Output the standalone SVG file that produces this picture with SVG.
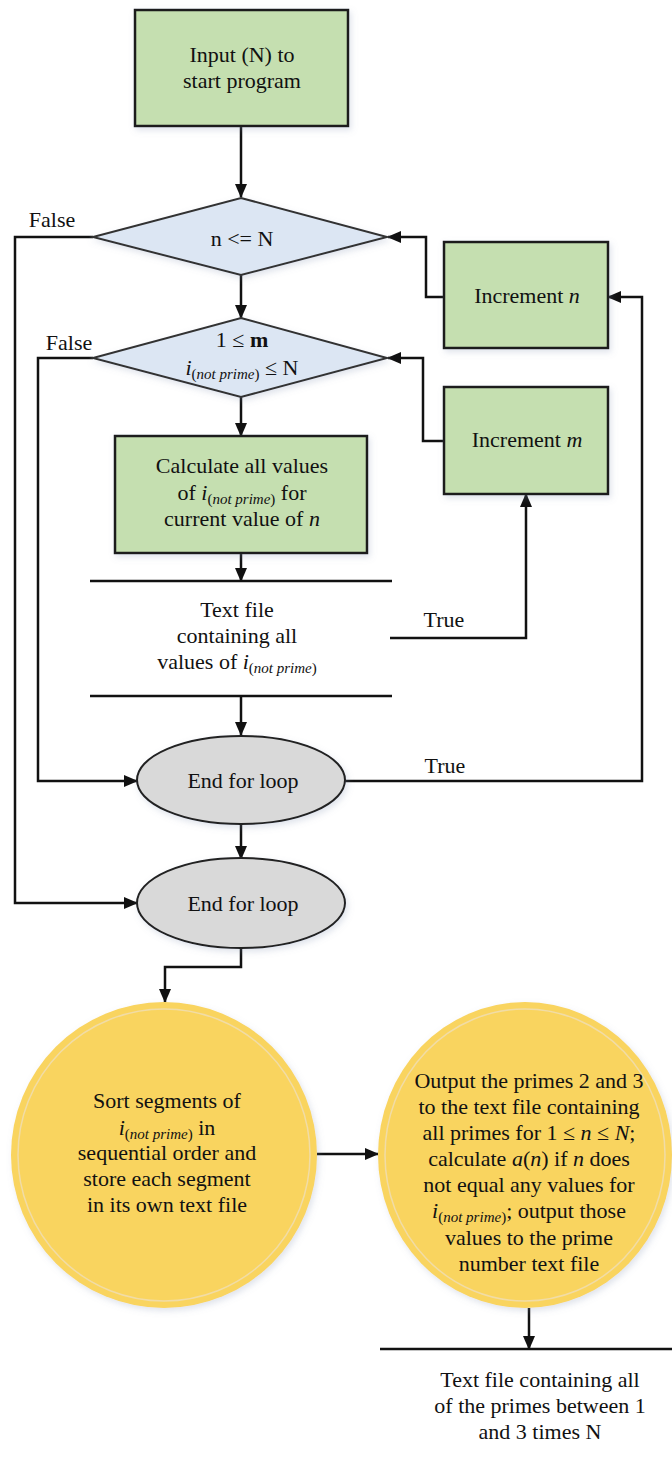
<svg xmlns="http://www.w3.org/2000/svg" width="672" height="1461" viewBox="0 0 672 1461">
<style>
text{font-family:"Liberation Serif","Times New Roman",serif;font-size:22px;fill:#111}
.c{text-anchor:middle}
.it{font-style:italic}
.sub{font-size:15px}
.box{fill:#c5dfb0;stroke:#1a1a1a;stroke-width:2.5}
.dia{fill:#dce6f3;stroke:#333;stroke-width:2}
.ell{fill:#d9d9d9;stroke:#222;stroke-width:2}
.yel{fill:#f9d45f}
.ring{fill:none;stroke:#f1dca6;stroke-width:1.5}
.ln{fill:none;stroke:#111;stroke-width:2.5}
.ca{fill:none;stroke:#111;stroke-width:2.5;marker-end:url(#ah)}
</style>
<defs>
<marker id="ah" markerUnits="userSpaceOnUse" markerWidth="14" markerHeight="14" viewBox="0 0 14 14" refX="13" refY="7" orient="auto">
<path d="M0,1 L14,7 L0,13 Z" fill="#111"/>
</marker>
<filter id="sh" x="-10%" y="-10%" width="125%" height="125%">
<feDropShadow dx="2" dy="3" stdDeviation="3" flood-color="#8090b0" flood-opacity="0.25"/>
</filter>
</defs>

<g id="connectors">
<path class="ca" d="M241,126 V197"/>
<path class="ca" d="M241,275 V318"/>
<path class="ca" d="M241,397 V436"/>
<path class="ca" d="M241,553 V581"/>
<path class="ca" d="M241,696 V735"/>
<path class="ca" d="M241,824 V859"/>
<path class="ca" d="M93,237 H15 V903 H137"/>
<path class="ca" d="M93,358 H38 V781 H137"/>
<path class="ca" d="M444,297 H426 V237 H388"/>
<path class="ca" d="M444,441 H423 V358 H388"/>
<path class="ca" d="M390,638 H526 V494"/>
<path class="ca" d="M345,781 H642 V297 H608"/>
<path class="ca" d="M241,948 V967 H165 V1002"/>
<path class="ca" d="M317,1154 H378"/>
<path class="ca" d="M529,1308 V1349"/>
<text x="52" y="227" class="c">False</text>
<text x="69" y="350" class="c">False</text>
<text x="444" y="627" class="c">True</text>
<text x="445" y="773" class="c">True</text>
</g>

<g id="start">
<rect class="box" x="135" y="10" width="213" height="116" filter="url(#sh)"/>
<text x="242" y="62" class="c">Input (N) to</text>
<text x="242" y="88" class="c">start program</text>
</g>

<g id="cond-n">
<polygon class="dia" points="241,198 387,237 241,275 93,237" filter="url(#sh)"/>
<text x="242" y="246" class="c">n &lt;= N</text>
</g>

<g id="cond-m">
<polygon class="dia" points="241,318 387,358 241,397 93,358" filter="url(#sh)"/>
<text x="242" y="347" class="c">1 ≤ <tspan font-weight="bold">m</tspan></text>
<text x="242" y="375" class="c"><tspan class="it">i</tspan><tspan class="sub" dy="4">(<tspan class="it">not prime</tspan>)</tspan><tspan dy="-4"> ≤ N</tspan></text>
</g>

<g id="inc-n">
<rect class="box" x="444" y="242" width="164" height="106" filter="url(#sh)"/>
<text x="527" y="303" class="c">Increment <tspan class="it">n</tspan></text>
</g>

<g id="inc-m">
<rect class="box" x="444" y="387" width="164" height="107" filter="url(#sh)"/>
<text x="527" y="447" class="c">Increment <tspan class="it">m</tspan></text>
</g>

<g id="calc">
<rect class="box" x="115" y="436" width="252" height="117" filter="url(#sh)"/>
<text x="242" y="473" class="c">Calculate all values</text>
<text x="242" y="500" class="c">of <tspan class="it">i</tspan><tspan class="sub" dy="4">(<tspan class="it">not prime</tspan>)</tspan><tspan dy="-4"> for</tspan></text>
<text x="242" y="526" class="c">current value of <tspan class="it">n</tspan></text>
</g>

<g id="data-notprime">
<path class="ln" d="M90,581 H392 M90,696 H392"/>
<text x="237" y="617" class="c">Text file</text>
<text x="237" y="643" class="c">containing all</text>
<text x="237" y="669" class="c">values of <tspan class="it">i</tspan><tspan class="sub" dy="4">(<tspan class="it">not prime</tspan>)</tspan></text>
</g>

<g id="end-inner">
<ellipse class="ell" cx="241" cy="780" rx="104" ry="44" filter="url(#sh)"/>
<text x="243" y="788" class="c">End for loop</text>
</g>

<g id="end-outer">
<ellipse class="ell" cx="241" cy="903" rx="104" ry="45" filter="url(#sh)"/>
<text x="243" y="911" class="c">End for loop</text>
</g>

<g id="sort">
<ellipse class="yel" cx="164" cy="1155" rx="153" ry="153" filter="url(#sh)"/>
<ellipse class="ring" cx="164" cy="1155" rx="146" ry="146"/>
<text x="167" y="1108" class="c">Sort segments of</text>
<text x="167" y="1135" class="c"><tspan class="it">i</tspan><tspan class="sub" dy="4">(<tspan class="it">not prime</tspan>)</tspan><tspan dy="-4"> in</tspan></text>
<text x="167" y="1160" class="c">sequential order and</text>
<text x="167" y="1186" class="c">store each segment</text>
<text x="167" y="1212" class="c">in its own text file</text>
</g>

<g id="output">
<ellipse class="yel" cx="525" cy="1155" rx="147" ry="153" filter="url(#sh)"/>
<ellipse class="ring" cx="525" cy="1155" rx="140" ry="146"/>
<text x="529" y="1088" class="c">Output the primes 2 and 3</text>
<text x="529" y="1114" class="c">to the text file containing</text>
<text x="529" y="1140" class="c">all primes for 1 ≤ <tspan class="it">n</tspan> ≤ <tspan class="it">N</tspan>;</text>
<text x="529" y="1166" class="c">calculate <tspan class="it">a</tspan>(<tspan class="it">n</tspan>) if <tspan class="it">n</tspan> does</text>
<text x="529" y="1192" class="c">not equal any values for</text>
<text x="529" y="1218" class="c"><tspan class="it">i</tspan><tspan class="sub" dy="4">(<tspan class="it">not prime</tspan>)</tspan><tspan dy="-4">; output those</tspan></text>
<text x="529" y="1245" class="c">values to the prime</text>
<text x="529" y="1271" class="c">number text file</text>
</g>

<g id="data-primes">
<path class="ln" d="M380,1349 H672"/>
<text x="540" y="1387" class="c">Text file containing all</text>
<text x="540" y="1413" class="c">of the primes between 1</text>
<text x="540" y="1439" class="c">and 3 times N</text>
</g>
</svg>
